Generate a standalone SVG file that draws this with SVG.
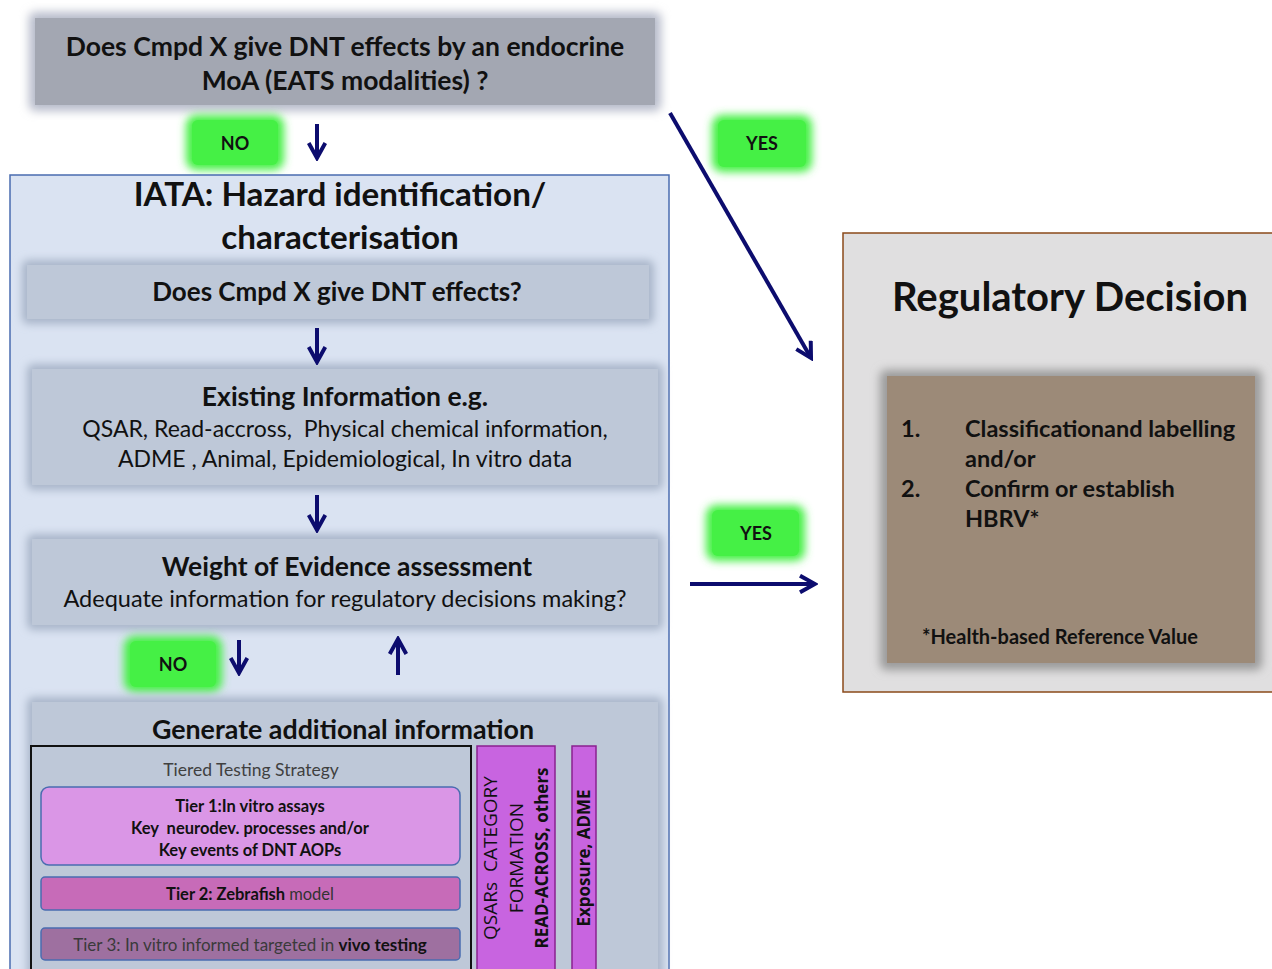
<svg xmlns="http://www.w3.org/2000/svg" width="1272" height="969" viewBox="0 0 1272 969">
<defs>
<style>
text{font-family:Lato,"Open Sans","Liberation Sans",sans-serif;fill:#111;text-anchor:middle}
.b{font-weight:bold}
.os{font-family:"Open Sans","Liberation Sans",sans-serif}
.st{text-anchor:start}
.pre{white-space:pre}
.conn{stroke:#0c0c6e;stroke-width:4;fill:none}
.badge{fill:#45f045}
.glow{fill:#45f045;filter:url(#blur)}
.gbox{fill:#bec8d8}
.shadow{fill:#a9b5c9;filter:url(#blur)}
</style>
<filter id="blur" x="-20%" y="-20%" width="140%" height="140%"><feGaussianBlur stdDeviation="4"/></filter>
<filter id="blur2" x="-20%" y="-20%" width="140%" height="140%"><feGaussianBlur stdDeviation="5"/></filter>
<marker id="ah" viewBox="0 0 12 12" refX="10" refY="6" markerWidth="5" markerHeight="5" orient="auto" markerUnits="strokeWidth">
<path d="M1,1 L10,6 L1,11" fill="none" stroke="#0c0c6e" stroke-width="2.4"/>
</marker>
</defs>
<rect width="1272" height="969" fill="#fff"/>

<g id="top-question">
<rect x="29" y="12" width="632" height="99" rx="6" fill="#b7bccb" filter="url(#blur2)"/>
<rect x="35" y="18" width="620" height="87" fill="#a3a7b2"/>
<text class="b" x="345" y="56" font-size="26.5">Does Cmpd X give DNT effects by an endocrine</text>
<text class="b" x="345" y="90" font-size="26.5">MoA (EATS modalities) ?</text>
</g>

<g id="no1">
<rect x="186" y="115" width="98" height="55" rx="10" class="glow"/>
<rect x="192" y="120" width="86" height="45" rx="6" class="badge"/>
<text class="b" x="235" y="150" font-size="18">NO</text>
</g>

<g id="yes1">
<rect x="712" y="115" width="100" height="57" rx="10" class="glow"/>
<rect x="718" y="120" width="88" height="47" rx="6" class="badge"/>
<text class="b" x="762" y="150" font-size="18">YES</text>
</g>

<g id="iata">
<rect x="10" y="175" width="659" height="800" fill="#dae3f2" stroke="#4a6cb0" stroke-width="1.5"/>
<text class="b" x="340" y="206" font-size="33.2">IATA: Hazard identification/</text>
<text class="b" x="340" y="249" font-size="33.2">characterisation</text>
</g>

<g id="q-dnt">
<rect x="22" y="260" width="632" height="64" rx="6" class="shadow"/>
<rect x="27" y="265" width="622" height="54" class="gbox"/>
<text class="b" x="337" y="301" font-size="26">Does Cmpd X give DNT effects?</text>
</g>

<g id="existing">
<rect x="27" y="364" width="636" height="126" rx="6" class="shadow"/>
<rect x="32" y="369" width="626" height="116" class="gbox"/>
<text class="b" x="345" y="406" font-size="26.5">Existing Information e.g.</text>
<text class="pre" x="345" y="437" font-size="23">QSAR, Read-accross,  Physical chemical information,</text>
<text x="345" y="467" font-size="23">ADME , Animal, Epidemiological, In vitro data</text>
</g>

<g id="woe">
<rect x="27" y="534" width="636" height="96" rx="6" class="shadow"/>
<rect x="32" y="539" width="626" height="86" class="gbox"/>
<text class="b" x="347" y="576" font-size="26.5">Weight of Evidence assessment</text>
<text x="345" y="607" font-size="23.5">Adequate information for regulatory decisions making?</text>
</g>

<g id="no2">
<rect x="124" y="636" width="98" height="56" rx="10" class="glow"/>
<rect x="130" y="641" width="86" height="46" rx="6" class="badge"/>
<text class="b" x="173" y="671" font-size="18">NO</text>
</g>

<g id="yes2">
<rect x="706" y="505" width="99" height="56" rx="10" class="glow"/>
<rect x="712" y="510" width="87" height="46" rx="6" class="badge"/>
<text class="b" x="756" y="540" font-size="18">YES</text>
</g>

<g id="generate">
<rect x="27" y="697" width="636" height="290" rx="6" class="shadow"/>
<rect x="32" y="702" width="626" height="280" class="gbox"/>
<text class="b" x="343" y="739" font-size="26.8">Generate additional information</text>
</g>

<g id="tiered">
<rect x="31" y="746" width="440" height="240" fill="none" stroke="#111" stroke-width="2"/>
<text x="251" y="776" font-size="17.5" style="fill:#404040">Tiered Testing Strategy</text>
</g>

<g id="tier1">
<rect x="41" y="787" width="419" height="78" rx="8" fill="#da96e6" stroke="#4a6cb0" stroke-width="1.5"/>
<text class="b" x="250" y="812" font-size="16.5">Tier 1:In vitro assays</text>
<text class="b pre" x="250" y="834" font-size="16.5">Key  neurodev. processes and/or</text>
<text class="b" x="250" y="856" font-size="16.5">Key events of DNT AOPs</text>
</g>

<g id="tier2">
<rect x="41" y="877" width="419" height="33" rx="4" fill="#c76bb8" stroke="#4a6cb0" stroke-width="1.5"/>
<text class="b" x="250" y="900" font-size="16.5">Tier 2: Zebrafish <tspan font-weight="normal" style="fill:#333">model</tspan></text>
</g>

<g id="tier3">
<rect x="41" y="928" width="419" height="32" rx="4" fill="#9e70a0" stroke="#4a6cb0" stroke-width="1.5"/>
<text x="250" y="951" font-size="17" style="fill:#3a3a3a">Tier 3: In vitro informed targeted in <tspan font-weight="bold" style="fill:#111">vivo testing</tspan></text>
</g>

<g id="qsars">
<rect x="477" y="746" width="78" height="240" fill="#c864e0" stroke="#8b2090" stroke-width="1.5"/>
<g transform="translate(516,858) rotate(-90)">
<text class="os pre" x="0" y="-19" font-size="19">QSARs  CATEGORY</text>
<text class="os" x="0" y="7" font-size="19">FORMATION</text>
<text class="os b" x="0" y="32" font-size="17">READ-ACROSS, others</text>
</g>
</g>

<g id="exposure">
<rect x="572" y="746" width="24" height="240" fill="#c864e0" stroke="#8b2090" stroke-width="1.5"/>
<g transform="translate(584,858) rotate(-90)">
<text class="os b" x="0" y="6" font-size="17">Exposure, ADME</text>
</g>
</g>

<g id="regulatory">
<rect x="843" y="233" width="440" height="459" fill="#e0dfe0" stroke="#8b4a1a" stroke-width="1.5"/>
<text class="b" x="1070" y="311" font-size="40">Regulatory Decision</text>
</g>

<g id="decisions">
<rect x="880" y="370" width="382" height="300" rx="6" fill="#9a9a9a" filter="url(#blur2)"/>
<rect x="887" y="376" width="368" height="287" fill="#9c8a78"/>
<text class="b st" x="901" y="437" font-size="23.5">1.</text>
<text class="b st" x="965" y="437" font-size="23.5">Classificationand labelling</text>
<text class="b st" x="965" y="467" font-size="23.5">and/or</text>
<text class="b st" x="901" y="497" font-size="23.5">2.</text>
<text class="b st" x="965" y="497" font-size="23.5">Confirm or establish</text>
<text class="b st" x="965" y="527" font-size="23.5">HBRV*</text>
<text class="b st" x="922" y="644" font-size="20">*Health-based Reference Value</text>
</g>

<g id="connectors">
<line class="conn" x1="317" y1="124" x2="317" y2="158" marker-end="url(#ah)"/>
<line class="conn" x1="317" y1="328" x2="317" y2="362" marker-end="url(#ah)"/>
<line class="conn" x1="317" y1="495" x2="317" y2="530" marker-end="url(#ah)"/>
<line class="conn" x1="239" y1="640" x2="239" y2="673" marker-end="url(#ah)"/>
<line class="conn" x1="398" y1="675" x2="398" y2="639" marker-end="url(#ah)"/>
<line class="conn" x1="670" y1="113" x2="811" y2="358" stroke-width="3.5" marker-end="url(#ah)"/>
<line class="conn" x1="690" y1="584" x2="815" y2="584" stroke-width="3.5" marker-end="url(#ah)"/>
</g>
</svg>
